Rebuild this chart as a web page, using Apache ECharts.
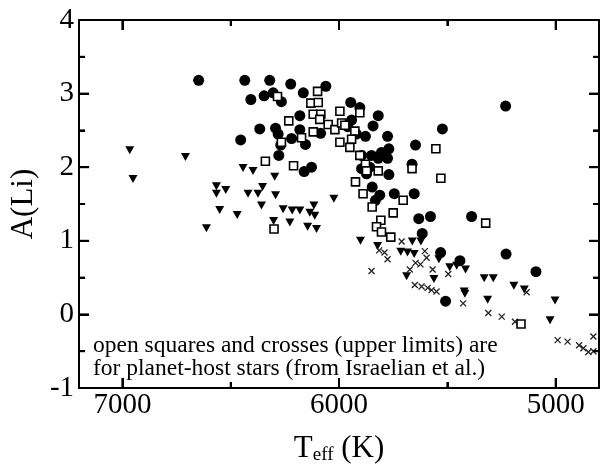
<!DOCTYPE html>
<html>
<head>
<meta charset="utf-8">
<script src="https://cdn.jsdelivr.net/npm/echarts@6/dist/echarts.min.js"></script>
<style>
  html, body { margin: 0; padding: 0; background: #fff; }
  #chart { width: 603px; height: 470px; }
</style>
</head>
<body>
<div id="chart"></div>
<script>
// filled circles: [Teff, A(Li)]
var circles = [
  [6648, 3.18], [6435, 3.18], [6320, 3.18], [6223, 3.13], [6061, 3.10], [6407, 2.92],
  [6346, 2.97], [6304, 3.01], [6266, 2.89], [6165, 3.01], [6181, 2.70], [6366, 2.52],
  [6293, 2.53], [6281, 2.45], [6454, 2.37], [6219, 2.39], [6181, 2.51], [6155, 2.31],
  [6269, 2.30], [6278, 2.16], [6085, 2.46], [6161, 1.94], [6127, 2.00],
  [5946, 2.88], [5904, 2.81], [5819, 2.70], [5843, 2.56], [5942, 2.64], [5776, 2.42],
  [5878, 2.42], [5770, 2.25], [5804, 2.20], [5896, 2.16], [5850, 2.16], [5819, 2.12],
  [5776, 2.12], [5647, 2.30], [5523, 2.52], [5231, 2.83], [5663, 2.04], [5896, 1.98],
  [5858, 2.00], [5873, 1.91], [5770, 1.90], [5847, 1.73], [5812, 1.62], [5832, 1.55],
  [5745, 1.64], [5653, 1.64], [5632, 1.30], [5578, 1.33], [5616, 1.10], [5388, 1.33],
  [5531, 0.84], [5229, 0.82], [5442, 0.73], [5091, 0.58], [5508, 0.18],
  [5960, 2.55], [5920, 2.45]
];

// open squares (planet hosts)
var squares = [
  [6099, 3.03], [6284, 2.96], [6130, 2.87], [6096, 2.88], [5996, 2.76], [6119, 2.72],
  [6084, 2.72], [6232, 2.63], [6089, 2.65], [6050, 2.58], [6019, 2.51], [6119, 2.48],
  [6173, 2.40], [6266, 2.34], [5996, 2.34], [6340, 2.08], [6210, 2.02], [6300, 1.16],
  [5904, 2.74], [5988, 2.60], [5973, 2.57], [5927, 2.49], [5942, 2.38], [5950, 2.27],
  [5904, 2.16], [5878, 2.04], [5819, 1.95], [5873, 1.95], [5663, 1.98], [5553, 2.25],
  [5530, 1.85], [5924, 1.80], [5889, 1.64], [5704, 1.55], [5847, 1.46], [5750, 1.38],
  [5807, 1.28], [5827, 1.19], [5804, 1.12], [5761, 1.05], [5323, 1.24], [5160, -0.13]
];

// downward triangles
var triangles = [
  [6966, 2.23], [6951, 1.84], [6709, 2.14], [6612, 1.17], [6566, 1.74], [6566, 1.64],
  [6523, 1.69], [6551, 1.42], [6470, 1.35], [6443, 1.99], [6397, 1.95], [6420, 1.64],
  [6374, 1.64], [6353, 1.73], [6358, 1.48], [6297, 1.87], [6293, 1.62], [6302, 1.27],
  [6258, 1.43], [6216, 1.41], [6181, 1.41], [6227, 1.25], [6135, 1.38], [6116, 1.48],
  [6112, 1.34], [6145, 1.19], [6104, 1.16], [6024, 1.57],
  [5901, 1.00], [5822, 0.93], [5662, 0.99], [5622, 0.99], [5715, 0.85], [5684, 0.84],
  [5653, 0.82], [5688, 0.52], [5562, 0.48], [5539, 0.75], [5489, 0.64], [5457, 0.66],
  [5416, 0.61], [5330, 0.49], [5288, 0.49], [5422, 0.31], [5419, 0.28], [5314, 0.20],
  [5193, 0.39], [5145, 0.34], [5003, 0.19], [5026, -0.08]
];

// crosses (upper limits, planet hosts)
var crosses = [
  [5711, 0.99], [5815, 0.87], [5790, 0.84], [5604, 0.86], [5850, 0.59], [5776, 0.75],
  [5647, 0.70], [5624, 0.68], [5596, 0.77], [5673, 0.61], [5568, 0.61], [5496, 0.55],
  [5650, 0.40], [5619, 0.38], [5591, 0.36], [5573, 0.33], [5550, 0.31], [5427, 0.15],
  [5311, 0.02], [5249, -0.03], [5188, -0.10], [5134, 0.30], [4991, -0.35], [4945, -0.37],
  [4892, -0.42], [4872, -0.46], [4849, -0.51], [4826, -0.50], [4826, -0.30]
];

var xMajor = [5000, 6000, 7000];
var xMinor = [5500, 6500];
var yMajor = [-1, 0, 1, 2, 3, 4];
var yMinor = [-0.5, 0.5, 1.5, 2.5, 3.5];
var note = 'open squares and crosses (upper limits) are\nfor planet-host stars (from Israelian et al.)';

var X0 = 7200, X1 = 4800, Y0 = -1, Y1 = 4;
var serif = '"Liberation Serif", "DejaVu Serif", serif';
var ink = '#000';

function xAx(pos, ticks, len, main) {
  return {
    type: 'value', min: X1, max: X0, inverse: true, position: pos,
    axisLine: { show: main, onZero: false, lineStyle: { color: ink, width: 2 } },
    axisTick: { show: true, inside: true, length: len, customValues: ticks, lineStyle: { color: ink, width: 2 } },
    axisLabel: { show: main && pos === 'bottom', customValues: ticks, color: ink,
      fontFamily: serif, fontSize: 29, margin: 3,
      formatter: function (v) { return String(v); } },
    splitLine: { show: false }
  };
}
function yAx(pos) {
  return {
    type: 'value', min: Y0, max: Y1, interval: 1, position: pos,
    axisLine: { show: true, onZero: false, lineStyle: { color: ink, width: 2 } },
    axisTick: { show: true, inside: true, length: 10, lineStyle: { color: ink, width: 2 } },
    minorTick: { show: true, splitNumber: 2, length: 6, lineStyle: { color: ink, width: 2 } },
    axisLabel: { show: pos === 'left', color: ink, fontFamily: serif, fontSize: 29, margin: 5,
      formatter: function (v) { return String(v); } },
    splitLine: { show: false }
  };
}

var noteEl = {
  id: 'note', type: 'text', left: 93, top: 334, z: 10,
  style: { text: note, fill: ink, font: '23.5px ' + serif, lineHeight: 23 }
};

var chart = echarts.init(document.getElementById('chart'));
var option = {
  backgroundColor: '#fff',
  animation: false,
  grid: { left: 78, right: 4, top: 20, bottom: 78 },
  xAxis: [
    Object.assign(xAx('bottom', xMajor, 10, true), {
      name: '{t|T}{s|eff}{t| (K)}', nameLocation: 'middle', nameGap: 44,
      nameTextStyle: {
        rich: {
          t: { fontFamily: serif, fontSize: 31, color: ink },
          s: { fontFamily: serif, fontSize: 19, color: ink, verticalAlign: 'bottom', padding: [14, 0, 0, 0] }
        }
      }
    }),
    xAx('bottom', xMinor, 6, false),
    xAx('top', xMajor, 10, true),
    xAx('top', xMinor, 6, false)
  ],
  yAxis: [
    Object.assign(yAx('left'), {
      name: 'A(Li)', nameLocation: 'middle', nameGap: 38,
      nameTextStyle: { fontFamily: serif, fontSize: 31, color: ink }
    }),
    yAx('right')
  ],
  graphic: [noteEl],
  series: [
    {
      type: 'scatter', name: 'triangles', data: triangles,
      symbol: 'triangle', symbolRotate: 180, symbolSize: [9, 8],
      itemStyle: { color: ink, opacity: 1 }
    },
    {
      type: 'scatter', name: 'crosses', data: crosses,
      symbol: 'path://M0,0L10,10M10,0L0,10', symbolSize: 6,
      itemStyle: { color: 'transparent', borderColor: '#222', borderWidth: 1.3, opacity: 1 }
    },
    {
      type: 'scatter', name: 'circles', data: circles,
      symbol: 'circle', symbolSize: 11,
      itemStyle: { color: ink, opacity: 1 }
    },
    {
      type: 'scatter', name: 'squares', data: squares,
      symbol: 'rect', symbolSize: 8,
      itemStyle: { color: '#fff', borderColor: ink, borderWidth: 1.6, opacity: 1 }
    }
  ]
};
chart.setOption(option);

// inside ticks on all four sides, placed through the chart's own scales
var g = [noteEl];
function seg(id, a, b) {
  g.push({ id: id, type: 'line', z: 20, silent: true,
    shape: { x1: a[0], y1: a[1], x2: b[0], y2: b[1] },
    style: { stroke: ink, lineWidth: 2 } });
}
function px(x, y) { return chart.convertToPixel({ seriesIndex: 0 }, [x, y]); }
[[xMajor, 10], [xMinor, 6]].forEach(function (set) {
  set[0].forEach(function (v, i) {
    var b = px(v, Y0), t = px(v, Y1);
    seg('xb' + v, b, [b[0], b[1] - set[1]]);
    seg('xt' + v, t, [t[0], t[1] + set[1]]);
  });
});
[[yMajor, 10], [yMinor, 6]].forEach(function (set) {
  set[0].forEach(function (v, i) {
    var l = px(X0, v), r = px(X1, v);
    seg('yl' + v, l, [l[0] + set[1], l[1]]);
    seg('yr' + v, r, [r[0] - set[1], r[1]]);
  });
});
chart.setOption({ graphic: g });
</script>
</body>
</html>
